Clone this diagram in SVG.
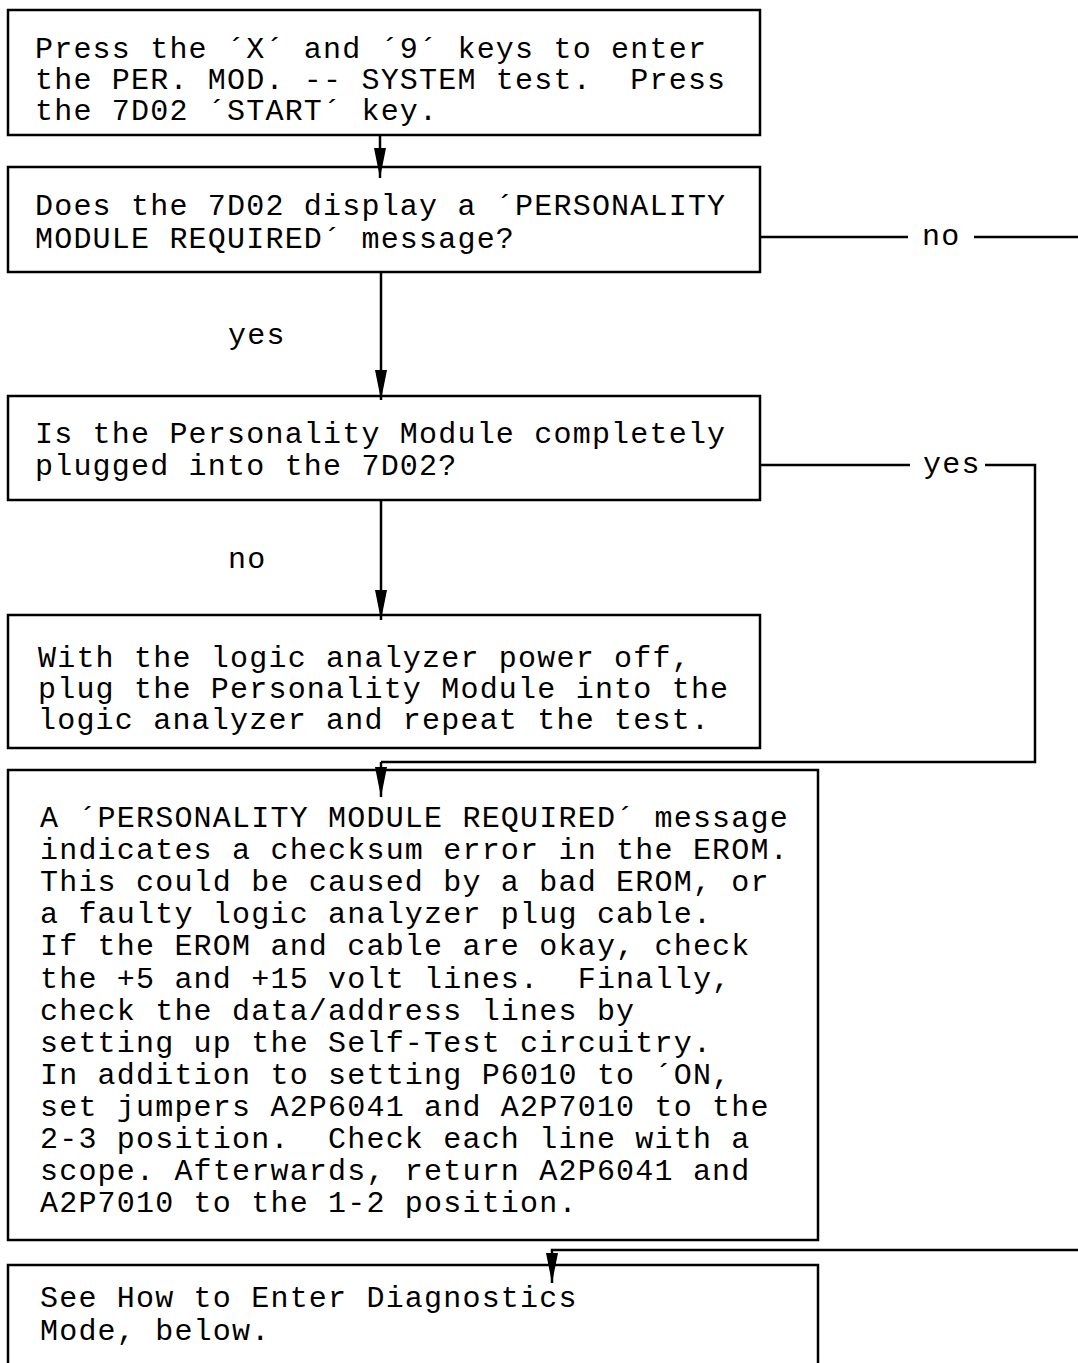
<svg xmlns="http://www.w3.org/2000/svg" width="1078" height="1363" viewBox="0 0 1078 1363">
<style>
.box{fill:#fff;stroke:#000;stroke-width:2.5}
.t{font-family:"Liberation Mono","DejaVu Sans Mono",monospace;font-size:30px;letter-spacing:1.2px;fill:#000;white-space:pre}
.c{fill:none;stroke:#000;stroke-width:2.5}
</style>
<defs>
<marker id="ah" viewBox="0 0 30 12" refX="30" refY="6" markerWidth="30" markerHeight="12" markerUnits="userSpaceOnUse" orient="auto">
<path d="M0,0 L30,6 L0,12 z" fill="#000"/>
</marker>
</defs>
<rect width="1078" height="1363" fill="#fff"/>
<g id="n1">
<rect class="box" x="8" y="10" width="752" height="125"/>
<text class="t" x="35" y="58">Press the ´X´ and ´9´ keys to enter</text>
<text class="t" x="35" y="89">the PER. MOD. -- SYSTEM test.  Press</text>
<text class="t" x="35" y="120">the 7D02 ´START´ key.</text>
</g>
<g id="n2">
<rect class="box" x="8" y="167" width="752" height="105"/>
<text class="t" x="35" y="215">Does the 7D02 display a ´PERSONALITY</text>
<text class="t" x="35" y="248">MODULE REQUIRED´ message?</text>
</g>
<g id="n3">
<rect class="box" x="8" y="396" width="752" height="104"/>
<text class="t" x="35" y="443">Is the Personality Module completely</text>
<text class="t" x="35" y="475">plugged into the 7D02?</text>
</g>
<g id="n4">
<rect class="box" x="8" y="615" width="752" height="133"/>
<text class="t" x="38" y="667">With the logic analyzer power off,</text>
<text class="t" x="38" y="698">plug the Personality Module into the</text>
<text class="t" x="38" y="729">logic analyzer and repeat the test.</text>
</g>
<g id="n5">
<rect class="box" x="8" y="770" width="810" height="470"/>
<text class="t" x="40" y="827">A ´PERSONALITY MODULE REQUIRED´ message</text>
<text class="t" x="40" y="859">indicates a checksum error in the EROM.</text>
<text class="t" x="40" y="891">This could be caused by a bad EROM, or</text>
<text class="t" x="40" y="923">a faulty logic analyzer plug cable.</text>
<text class="t" x="40" y="955">If the EROM and cable are okay, check</text>
<text class="t" x="40" y="988">the +5 and +15 volt lines.  Finally,</text>
<text class="t" x="40" y="1020">check the data/address lines by</text>
<text class="t" x="40" y="1052">setting up the Self-Test circuitry.</text>
<text class="t" x="40" y="1084">In addition to setting P6010 to ´ON,</text>
<text class="t" x="40" y="1116">set jumpers A2P6041 and A2P7010 to the</text>
<text class="t" x="40" y="1148">2-3 position.  Check each line with a</text>
<text class="t" x="40" y="1180">scope. Afterwards, return A2P6041 and</text>
<text class="t" x="40" y="1212">A2P7010 to the 1-2 position.</text>
</g>
<g id="n6">
<rect class="box" x="8" y="1265" width="810" height="110"/>
<text class="t" x="40" y="1307">See How to Enter Diagnostics</text>
<text class="t" x="40" y="1340">Mode, below.</text>
</g>
<g id="connectors">
<line class="c" x1="380" y1="135" x2="380" y2="178" marker-end="url(#ah)"/>
<line class="c" x1="381" y1="272" x2="381" y2="400" marker-end="url(#ah)"/>
<text class="t" x="228" y="344">yes</text>
<line class="c" x1="381" y1="500" x2="381" y2="620" marker-end="url(#ah)"/>
<text class="t" x="228" y="568">no</text>
<line class="c" x1="760" y1="237" x2="908" y2="237"/>
<text class="t" x="922" y="245">no</text>
<line class="c" x1="974" y1="237" x2="1078" y2="237"/>
<line class="c" x1="760" y1="465" x2="910" y2="465"/>
<text class="t" x="923" y="473">yes</text>
<polyline class="c" points="985,465 1035,465 1035,762 381,762"/>
<line class="c" x1="381" y1="762" x2="381" y2="797" marker-end="url(#ah)"/>
<polyline class="c" points="1078,1250 552,1250 552,1283" marker-end="url(#ah)"/>
</g>
</svg>
